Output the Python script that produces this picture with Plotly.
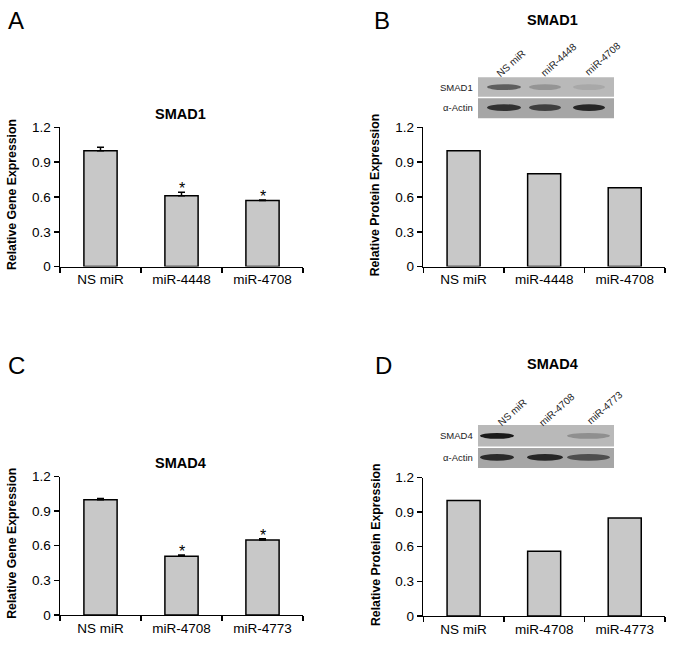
import plotly.graph_objects as go

W, H = 673, 649

# ---------------- data ----------------
cats_A = ["NS miR", "miR-4448", "miR-4708"]
vals_A = [1.00, 0.61, 0.57]
err_A = [0.03, 0.03, 0.005]
sig_A = ["", "*", "*"]

cats_B = ["NS miR", "miR-4448", "miR-4708"]
vals_B = [1.00, 0.80, 0.68]

cats_C = ["NS miR", "miR-4708", "miR-4773"]
vals_C = [1.00, 0.51, 0.65]
err_C = [0.01, 0.01, 0.01]
sig_C = ["", "*", "*"]

cats_D = ["NS miR", "miR-4708", "miR-4773"]
vals_D = [1.00, 0.56, 0.85]

y_ticks = [0, 0.3, 0.6, 0.9, 1.2]
y_tick_text = ["0", "0.3", "0.6", "0.9", "1.2"]

# western blot band intensities (0..1), per lane
blot_B_target = [0.55, 0.22, 0.10]
blot_B_actin = [0.80, 0.70, 0.88]
blot_D_target = [0.97, 0.0, 0.25]
blot_D_actin = [0.85, 0.88, 0.60]
blot_B_rows = ["SMAD1", "α-Actin"]
blot_D_rows = ["SMAD4", "α-Actin"]

FONT = "Liberation Sans, Arial, sans-serif"
BAR_FILL = "#c8c8c8"


def px_x(p):
    return p / W


def px_y(p):
    return 1 - p / H


# panel geometry in pixels: (x0, x1, y_top(1.2), y_bottom(0))
geo = {
    "A": (60, 303, 123.3, 265.7),
    "B": (423.3, 665, 123.3, 265.7),
    "C": (60, 303, 480.7, 622.3),
    "D": (423.3, 665, 481.7, 623.3),
}

fig = go.Figure()
layout = dict(
    width=W, height=H, margin=dict(l=0, r=0, t=0, b=0),
    paper_bgcolor="white", plot_bgcolor="white",
    font=dict(family=FONT, color="black", size=13),
    showlegend=False, bargap=0.59,
)
annotations = []
shapes = []

panels = [
    ("A", cats_A, vals_A, err_A, sig_A, "Relative Gene Expression"),
    ("B", cats_B, vals_B, None, None, "Relative Protein Expression"),
    ("C", cats_C, vals_C, err_C, sig_C, "Relative Gene Expression"),
    ("D", cats_D, vals_D, None, None, "Relative Protein Expression"),
]

for i, (key, cats, vals, errs, sig, ytitle) in enumerate(panels):
    n = "" if i == 0 else str(i + 1)
    x0, x1, yt, yb = geo[key]
    bar = go.Bar(
        x=cats, y=vals, xaxis="x" + n, yaxis="y" + n,
        marker=dict(color=BAR_FILL, line=dict(color="black", width=1.5)),
        hoverinfo="skip",
    )
    if errs is not None:
        bar.error_y = dict(type="data", array=errs, arrayminus=[0] * len(errs),
                           symmetric=False, color="black", thickness=1.5, width=3.5)
    fig.add_trace(bar)
    layout["xaxis" + n] = dict(
        domain=[px_x(x0), px_x(x1)], anchor="y" + n, type="category",
        showline=True, linecolor="black", linewidth=1.5,
        ticks="outside", ticklen=5, tickcolor="black", tickwidth=1.5,
        tickson="boundaries", showgrid=False, zeroline=False,
        tickfont=dict(size=13.5, family=FONT, color="black"), fixedrange=True,
    )
    layout["yaxis" + n] = dict(
        domain=[px_y(yb), px_y(yt)], anchor="x" + n, range=[0, 1.2],
        tickvals=y_ticks, ticktext=y_tick_text,
        showline=True, linecolor="black", linewidth=1.5,
        ticks="outside", ticklen=5, tickcolor="black", tickwidth=1.5,
        showgrid=False, zeroline=False,
        tickfont=dict(size=13.5, family=FONT, color="black"), fixedrange=True,
    )
    # y-axis titles
    annotations.append(dict(
        text="<b>" + ytitle + "</b>", xref="paper", yref="paper",
        x=px_x(x0 - 48), y=px_y((yt + yb) / 2 - 2), textangle=-90,
        showarrow=False, font=dict(size=12.3, family=FONT, color="black"),
        xanchor="center", yanchor="middle",
    ))
    # significance stars
    if sig is not None:
        for c, v, e, s in zip(cats, vals, errs, sig):
            if s:
                annotations.append(dict(
                    text=s, xref="x" + n, yref="y" + n, x=c, y=v + e,
                    showarrow=False, yanchor="bottom", yshift=-7,
                    font=dict(size=16, family=FONT, color="black"),
                ))

# panel letters
for letter, (lx, ly) in {"A": (16, 14), "B": (382, 14), "C": (16, 367), "D": (383, 367)}.items():
    annotations.append(dict(text=letter, xref="paper", yref="paper", x=px_x(lx), y=px_y(ly),
                            showarrow=False, xanchor="center", yanchor="middle",
                            font=dict(size=24, family=FONT, color="black")))

# titles
for t, (tx, ty) in [("SMAD1", (180, 110)), ("SMAD1", (552, 13)),
                    ("SMAD4", (180, 467)), ("SMAD4", (552, 365))]:
    annotations.append(dict(text="<b>" + t + "</b>", xref="paper", yref="paper",
                            x=px_x(tx), y=px_y(ty), showarrow=False,
                            xanchor="center", yanchor="middle",
                            font=dict(size=14.5, family=FONT, color="black")))


# ------------- western blots (schematic) -------------
def blot(top, sep, bottom, lanes_x, target, actin, rows, lane_names, lane_label_pos):
    bx0, bx1 = 478, 614
    shapes.append(dict(type="rect", xref="paper", yref="paper",
                       x0=px_x(bx0), x1=px_x(bx1), y0=px_y(top), y1=px_y(sep),
                       fillcolor="#b9b9b9", line=dict(width=0), layer="above"))
    shapes.append(dict(type="rect", xref="paper", yref="paper",
                       x0=px_x(bx0), x1=px_x(bx1), y0=px_y(sep + 1.5), y1=px_y(bottom),
                       fillcolor="#a6a6a6", line=dict(width=0), layer="above"))
    yt = (top + sep) / 2
    ya = (sep + bottom) / 2
    for (lx0, lx1), ti, ai in zip(lanes_x, target, actin):
        if ti > 0:
            shapes.append(dict(type="circle", xref="paper", yref="paper",
                               x0=px_x(lx0), x1=px_x(lx1), y0=px_y(yt - 3), y1=px_y(yt + 3),
                               fillcolor="rgba(20,20,20,%.2f)" % ti, line=dict(width=0),
                               layer="above"))
        shapes.append(dict(type="circle", xref="paper", yref="paper",
                           x0=px_x(lx0), x1=px_x(lx1), y0=px_y(ya - 3.5), y1=px_y(ya + 3.5),
                           fillcolor="rgba(20,20,20,%.2f)" % ai, line=dict(width=0),
                           layer="above"))
    for name, yy in zip(rows, [yt, ya]):
        annotations.append(dict(text=name, xref="paper", yref="paper", x=px_x(bx0 - 3),
                                y=px_y(yy), showarrow=False, xanchor="right", yanchor="middle",
                                font=dict(size=9.5, family=FONT, color="#222222")))
    for name, (cx, cy) in zip(lane_names, lane_label_pos):
        annotations.append(dict(text=name, xref="paper", yref="paper", x=px_x(cx), y=px_y(cy),
                                showarrow=False, textangle=-42, xanchor="center",
                                yanchor="middle",
                                font=dict(size=10, family=FONT, color="#222222")))


blot(72, 92, 114, [(487, 521), (529, 561), (573, 605)], blot_B_target, blot_B_actin,
     blot_B_rows, cats_B, [(511, 58), (559, 54), (603, 53)])
blot(428, 450, 472, [(480, 514), (527, 563), (567, 610)], blot_D_target, blot_D_actin,
     blot_D_rows, cats_D, [(512, 415), (557, 412), (605, 410)])

layout["annotations"] = annotations
layout["shapes"] = shapes
fig.update_layout(**layout)
fig.write_html("out.html", config={"displayModeBar": False, "staticPlot": True},
               post_script="document.body.style.margin='0px';")
